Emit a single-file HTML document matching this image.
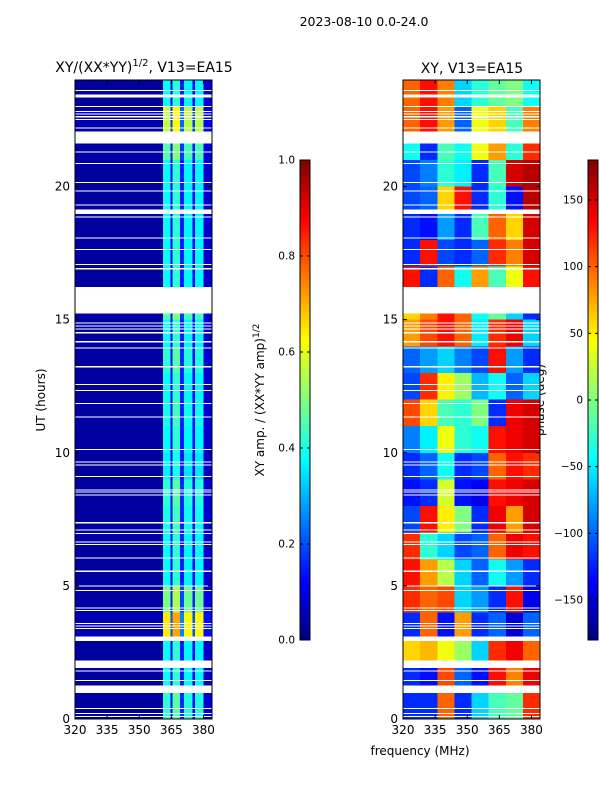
<!DOCTYPE html>
<html><head><meta charset="utf-8"><style>
body{margin:0;background:#fff;}
svg{display:block;font-family:"DejaVu Sans","Liberation Sans",sans-serif;}
</style></head><body>
<svg id="fig" width="600" height="800" viewBox="0 0 600 800" xmlns="http://www.w3.org/2000/svg">
<text x="364" y="26" font-size="12.5" text-anchor="middle">2023-08-10 0.0-24.0</text>
<text x="144" y="72" font-size="14" text-anchor="middle">XY/(XX*YY)<tspan font-size="10" dy="-6">1/2</tspan><tspan dy="6">, V13=EA15</tspan></text>
<text x="472" y="73" font-size="14" text-anchor="middle">XY, V13=EA15</text>
<text x="420" y="755" font-size="12" text-anchor="middle">frequency (MHz)</text>
<text x="45" y="400" font-size="12" text-anchor="middle" transform="rotate(-90 45 400)">UT (hours)</text>
<text x="264" y="400" font-size="12" text-anchor="middle" transform="rotate(-90 264 400)">XY amp. / (XX*YY amp)<tspan font-size="9" dy="-5">1/2</tspan></text>
<text x="544" y="400" font-size="12" text-anchor="middle" transform="rotate(-90 544 400)">phase (deg)</text>
<g id="layer"></g>
</svg>
<script>
// ---- data ----
var freqMin = 320, freqMax = 384;
var timeMin = 0, timeMax = 24;
var xTicks = [320, 335, 350, 365, 380];
var yTicks = [0, 5, 10, 15, 20];
var ampTicks = [0.0, 0.2, 0.4, 0.6, 0.8, 1.0];
var phaseTicks = [-150, -100, -50, 0, 50, 100, 150];
var ampEdges = [320, 361, 364.5, 365.5, 369, 371, 375, 376, 380, 384];
var ampProfile = [0.03, 0.38, 0.12, 0.42, 0.15, 0.37, 0.12, 0.37, 0.08];
var ampHourScale = [1.1, 1.0, 1.0, 1.7, 1.3, 1.0, 1.0, 1.05, 1.1, 0.95, 1.0, 1.05, 1.0, 1.1, 1.0, 1.2, 1.0, 1.0, 1.0, 1.0, 1.0, 1.2, 1.5, 1.0];
var phaseGrid = [
 [-120,-120,100,-120,-60,-20,-10,120],
 [-120,-130,110,-100,-130,130,90,140],
 [60,70,40,10,-60,120,140,100],
 [-120,100,-130,80,-120,-100,-150,-100],
 [120,100,110,-60,-80,-120,130,-140],
 [130,80,20,-60,-100,-40,-80,-120],
 [120,-30,-60,-110,-100,100,140,130],
 [-110,130,50,0,-120,140,80,150],
 [-130,-120,30,-130,-140,130,140,150],
 [-120,-100,-40,-120,-110,100,130,120],
 [-90,-50,40,-30,-40,130,140,150],
 [110,60,-20,-30,0,-120,140,150],
 [-110,120,50,10,-70,-40,-100,-60],
 [-100,-80,-60,-90,-110,130,-80,-120],
 [80,110,130,100,-50,120,140,-60],
 [60,90,130,100,-40,-10,-60,-120],
 [130,-120,100,-40,80,-20,40,130],
 [-120,130,-110,-120,-100,120,90,150],
 [-120,-130,-80,-120,-20,100,60,150],
 [-110,-100,60,130,-120,-30,-130,160],
 [-110,-90,-30,-50,-120,-20,150,160],
 [-40,-120,-20,-40,40,80,-30,120],
 [100,130,80,-100,40,60,-20,90],
 [100,130,90,-60,-30,-10,0,-40]
];
var gaps = [
 [0.08,0.12],[0.18,0.22],[0.38,0.42],[0.98,1.25],[1.43,1.47],[1.78,1.82],[1.92,2.2],
 [2.93,3.1],[3.38,3.42],[3.48,3.52],[3.56,3.6],[4.05,4.09],[4.15,4.19],[4.8,4.84],[4.98,5.02],
 [5.53,5.57],[6.03,6.07],[6.53,6.57],[6.63,6.67],[6.94,6.98],[7.08,7.12],[7.35,7.39],
 [8.4,8.44],[8.5,8.54],[8.58,8.62],[9.08,9.12],[9.52,9.56],[9.64,9.68],[10.11,10.15],
 [11.33,11.37],[11.83,11.87],[12.31,12.35],[12.55,12.59],[13.21,13.25],[13.92,13.96],[14.15,14.19],
 [14.48,14.54],[14.62,14.66],[14.74,14.78],[14.85,14.89],[15.23,16.23],[16.89,16.93],[17.05,17.09],
 [17.62,17.66],[18.05,18.09],[18.84,18.88],[18.96,19.14],[19.28,19.32],[19.81,19.85],[20.13,20.17],
 [20.85,20.89],[21.28,21.32],[21.62,22.07],[22.18,22.22],[22.5,22.54],[22.6,22.64],[22.7,22.74],
 [22.8,22.84],[22.98,23.02],[23.35,23.45],[23.58,23.62]
];
var NS = "http://www.w3.org/2000/svg";
var layer = document.getElementById('layer');
function jet(v){
  v = Math.max(0, Math.min(1, v));
  function c(x){return Math.round(255*Math.max(0, Math.min(1, x)));}
  var r = c(Math.min(4*v-1.5, -4*v+4.5)), g = c(Math.min(4*v-0.5, -4*v+3.5)), b = c(Math.min(4*v+0.5, -4*v+2.5));
  return 'rgb('+r+','+g+','+b+')';
}
function mk(tag, attrs, parent){
  var e = document.createElementNS(NS, tag);
  for (var k in attrs) e.setAttribute(k, attrs[k]);
  (parent||layer).appendChild(e);
  return e;
}
var panels = [{x0:75, x1:212, name:'amp'}, {x0:403, x1:540, name:'phase'}];
var Y0 = 719, Y1 = 80;
function yS(t){ return Y0 - (t - timeMin)/(timeMax - timeMin)*(Y0 - Y1); }
function xS(p, f){ return p.x0 + (f - freqMin)/(freqMax - freqMin)*(p.x1 - p.x0); }

var pA = panels[0];
for (var h = 0; h < ampHourScale.length; h++) {
  for (var j = 0; j < ampProfile.length; j++) {
    var xa = xS(pA, ampEdges[j]), xb = xS(pA, ampEdges[j+1]);
    var r = mk('rect', {x:xa, y:yS(h+1), width:xb-xa, height:yS(h)-yS(h+1), fill:jet(ampProfile[j]*ampHourScale[h]), 'shape-rendering':'crispEdges'});
    
    
  }
}
var pP = panels[1];
for (var h2 = 0; h2 < phaseGrid.length; h2++) {
  var row = phaseGrid[h2];
  var w = (freqMax - freqMin)/row.length;
  for (var k = 0; k < row.length; k++) {
    var xa2 = xS(pP, freqMin + k*w), xb2 = xS(pP, freqMin + (k+1)*w);
    var r2 = mk('rect', {x:xa2, y:yS(h2+1), width:xb2-xa2, height:yS(h2)-yS(h2+1), fill:jet((row[k]+180)/360), 'shape-rendering':'crispEdges'});
    
    
  }
}
panels.forEach(function(p){
  gaps.forEach(function(g){
    var gr = mk('rect', {x:p.x0, y:yS(g[1]), width:p.x1-p.x0, height:Math.max(1, yS(g[0])-yS(g[1])), fill:'#fff', 'shape-rendering':'crispEdges'});
    
    
  });
  var fr = mk('rect', {x:p.x0, y:Y1, width:p.x1-p.x0, height:Y0-Y1, fill:'none', stroke:'#000', 'stroke-width':1});
  
  
  xTicks.forEach(function(t){
    var x = xS(p, t);
    mk('line', {x1:x, x2:x, y1:Y0, y2:Y0-4, stroke:'#000'});
    mk('line', {x1:x, x2:x, y1:Y1, y2:Y1+4, stroke:'#000'});
    var tx = mk('text', {x:x, y:Y0+15, 'font-size':12, 'text-anchor':'middle'});
    tx.textContent = t;
    
    
  });
  yTicks.forEach(function(t){
    var y = yS(t);
    mk('line', {x1:p.x0, x2:p.x0+4, y1:y, y2:y, stroke:'#000'});
    mk('line', {x1:p.x1, x2:p.x1-4, y1:y, y2:y, stroke:'#000'});
    var ty = mk('text', {x:p.x0-5, y:y+4, 'font-size':12, 'text-anchor':'end'});
    ty.textContent = t;
    
    
  });
});
function colorbar(x, name, ticks, lo, hi, fmt){
  var top = 160, bot = 640, n = 120;
  for (var i = 0; i < n; i++) {
    mk('rect', {x:x, y:bot-(i+1)*(bot-top)/n, width:10, height:(bot-top)/n+0.5, fill:jet((i+0.5)/n), 'shape-rendering':'crispEdges'});
  }
  var f = mk('rect', {x:x, y:top, width:10, height:bot-top, fill:'none', stroke:'#000'});
  
  
  ticks.forEach(function(t){
    var y = bot - (t-lo)/(hi-lo)*(bot-top);
    mk('line', {x1:x, x2:x+3, y1:y, y2:y, stroke:'#000'});
    mk('line', {x1:x+10, x2:x+7, y1:y, y2:y, stroke:'#000'});
    var tl = mk('text', {x:x-5, y:y+3.5, 'font-size':10.5, 'text-anchor':'end'});
    tl.textContent = fmt(t);
    
    
  });
}
colorbar(300, 'amp-colorbar', ampTicks, 0, 1, function(t){return t.toFixed(1);});
colorbar(588, 'phase-colorbar', phaseTicks, -180, 180, function(t){return t < 0 ? '\u2212' + (-t) : '' + t;});
</script>
</body></html>
